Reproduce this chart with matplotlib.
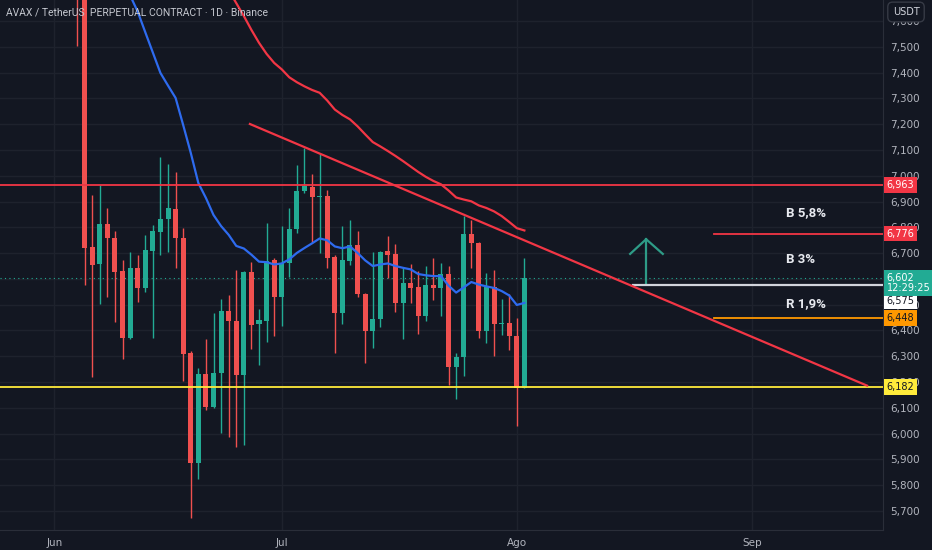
import numpy as np
import matplotlib.pyplot as plt
from matplotlib import transforms

# datos (dias contados desde el 1 de junio)
days = list(range(3, 63))  # 4 jun .. 2 ago
opens = [7950, 7800, 6723, 6657, 6812, 6760, 6632, 6372, 6644, 6564,
         6710, 6781, 6831, 6871, 6760, 6312, 5887, 6231, 6102, 6234,
         6477, 6438, 6227, 6626, 6424, 6438, 6674, 6529, 6661, 6794,
         6941, 6958, 6916, 6923, 6686, 6467, 6671, 6732, 6542, 6399,
         6443, 6708, 6696, 6508, 6583, 6570, 6457, 6577, 6564, 6619,
         6257, 6298, 6773, 6738, 6398, 6570, 6424, 6428, 6380, 6178]
highs = [8050, 7850, 6926, 6965, 6877, 6787, 6674, 6703, 6693, 6771,
         6809, 7074, 7045, 7014, 6797, 6320, 6256, 6367, 6467, 6522,
         6538, 6635, 6630, 6667, 6483, 6816, 6680, 6807, 6874, 7040,
         7107, 7006, 7085, 6945, 6694, 6807, 6829, 6786, 6545, 6706,
         6710, 6767, 6734, 6641, 6657, 6631, 6650, 6683, 6661, 6650,
         6313, 6844, 6829, 6742, 6622, 6635, 6522, 6540, 6447, 6683]
lows = [7504, 6576, 6218, 6503, 6529, 6434, 6289, 6365, 6509, 6551,
        6370, 6693, 6706, 6641, 6205, 5671, 5824, 6092, 6098, 6001,
        5988, 5947, 5956, 6328, 6266, 6357, 6380, 6419, 6606, 6780,
        6935, 6745, 6702, 6641, 6312, 6424, 6654, 6531, 6273, 6331,
        6415, 6603, 6473, 6366, 6508, 6386, 6437, 6518, 6456, 6189,
        6133, 6225, 6641, 6370, 6353, 6302, 6383, 6324, 6031, 6178]
closes = [7800, 6719, 6654, 6812, 6758, 6628, 6372, 6644, 6564, 6712,
          6786, 6833, 6875, 6758, 6308, 5887, 6231, 6104, 6234, 6477,
          6437, 6227, 6626, 6421, 6440, 6670, 6529, 6661, 6794, 6941,
          6961, 6919, 6921, 6683, 6467, 6674, 6732, 6542, 6399, 6443,
          6706, 6693, 6508, 6583, 6566, 6457, 6577, 6564, 6619, 6257,
          6298, 6773, 6738, 6398, 6570, 6425, 6430, 6380, 6178, 6602]

ema_fast_days = list(range(9, 63))
ema_fast = [7770, 7700, 7637, 7557, 7478, 7399, 7350, 7302, 7197, 7089,
            6972, 6914, 6848, 6805, 6771, 6728, 6718, 6694, 6667, 6665,
            6656, 6660, 6676, 6701, 6720, 6738, 6757, 6750, 6726, 6719,
            6726, 6701, 6672, 6650, 6656, 6660, 6650, 6643, 6637, 6619,
            6614, 6611, 6611, 6574, 6547, 6567, 6588, 6578, 6571, 6565,
            6553, 6536, 6499, 6507]
ema_slow_days = list(range(23, 63))
ema_slow = [7720, 7670, 7620, 7566, 7516, 7473, 7438, 7413, 7382, 7363,
            7347, 7333, 7322, 7292, 7257, 7236, 7219, 7192, 7161, 7131,
            7114, 7096, 7077, 7057, 7036, 7015, 6996, 6980, 6967, 6943,
            6916, 6908, 6901, 6885, 6875, 6862, 6844, 6821, 6797, 6788]

trend_days = [25.8, 107.2]
trend_prices = [7201, 6186]

month_ticks = [0, 30, 61, 92]
month_labels = ['Jun', 'Jul', 'Ago', 'Sep']
price_ticks = list(range(5700, 7700, 100))

current_price = 6602
timer_text = '12:29:25'
level_top = 6963
level_bottom = 6182
level_b58 = 6776
level_entry = 6575
level_r19 = 6448
zone_texts = ['B 5,8%', 'B 3%', 'R 1,9%']
zone_prices = [6857, 6674, 6503]
arrow_day, arrow_low, arrow_high = 78.06, 6580, 6754
arrow_head_days, arrow_head_price = [75.95, 80.26], 6697

bg = '#131722'
grid_c = '#1e222d'
txt_c = '#b2b5be'
up_c = '#22ab94'
down_c = '#f0504f'

fig = plt.figure(figsize=(9.32, 5.5), dpi=100, facecolor=bg)
ax = fig.add_axes([0, 20 / 550, 883 / 932, 530 / 550])
ax.set_facecolor(bg)
ax.set_xlim(-7.16, 109.3)
ax.set_ylim(5626, 7682)

# velas
d = np.array(days)
o = np.array(opens)
c = np.array(closes)
cols = [up_c if cc >= oo else down_c for oo, cc in zip(o, c)]
ax.vlines(d, lows, highs, colors=cols, linewidth=1, zorder=2)
ax.bar(d, np.maximum(np.abs(c - o), 4), bottom=np.minimum(o, c), width=0.66,
       color=cols, linewidth=0, zorder=3)

# medias
ax.plot(ema_fast_days, ema_fast, color='#2e6bef', linewidth=1.6, zorder=4)
ax.plot(ema_slow_days, ema_slow, color='#f23645', linewidth=1.6, zorder=4)

# niveles y lineas dibujadas
ax.axhline(level_top, color='#f23645', linewidth=1.3, zorder=4)
ax.axhline(level_bottom, color='#ffeb3b', linewidth=1.3, zorder=4)
ax.axhline(current_price, color=up_c, linewidth=0.8, linestyle=(0, (1, 3)), zorder=1)
ax.plot(trend_days, trend_prices, color='#f23645', linewidth=1.6, zorder=5)
ax.plot([87.0, 109.3], [level_b58] * 2, color='#f23645', linewidth=1.3, zorder=4)
ax.plot([87.0, 109.3], [level_r19] * 2, color='#ff9800', linewidth=1.3, zorder=4)
ax.plot([76.3, 109.3], [level_entry] * 2, color='#d1d4dc', linewidth=1.6, zorder=4)

ax.plot([arrow_day, arrow_day], [arrow_low, arrow_high], color='#2e9c87', linewidth=1.6)
ax.plot([arrow_head_days[0], arrow_day, arrow_head_days[1]],
        [arrow_head_price, arrow_high, arrow_head_price], color='#2e9c87', linewidth=1.6)

for t, p in zip(zone_texts, zone_prices):
    ax.text(96.5, p, t, color='#e8eaf0', fontsize=9.5, fontweight='bold', va='center', ha='left',
            family='Roboto')

# ejes
ax.set_xticks(month_ticks)
ax.set_xticklabels(month_labels)
ax.set_yticks(price_ticks)
ax.set_yticklabels([f'{v:,}' for v in price_ticks])
ax.yaxis.tick_right()
ax.tick_params(axis='both', length=0, colors=txt_c, labelsize=7.5)
ax.tick_params(axis='y', pad=5)
ax.tick_params(axis='x', pad=6)
ax.grid(True, color=grid_c, linewidth=1)
ax.set_axisbelow(True)
for s in ['top', 'left']:
    ax.spines[s].set_visible(False)
for s in ['right', 'bottom']:
    ax.spines[s].set_color('#2a2e39')

# etiquetas de precio
tr = transforms.blended_transform_factory(ax.transAxes, ax.transData)


def price_tag(y, label, fc, tc, dy=0):
    ax.annotate(label, xy=(1.0, y), xycoords=tr, xytext=(2.5, dy), textcoords='offset points',
                fontsize=7, color=tc, va='center', ha='left', annotation_clip=False, zorder=10,
                bbox=dict(boxstyle='square,pad=0.3', fc=fc, ec='none'))


price_tag(level_top, f'{level_top:,}', '#f23645', '#ffffff')
price_tag(level_b58, f'{level_b58:,}', '#f23645', '#ffffff')
price_tag(level_entry, f'{level_entry:,}', '#ffffff', '#131722', dy=-11)
price_tag(level_r19, f'{level_r19:,}', '#ff9800', '#131722')
price_tag(level_bottom, f'{level_bottom:,}', '#ffeb3b', '#131722')
ax.annotate(f'{current_price:,}\n{timer_text}', xy=(1.0, current_price), xycoords=tr,
            xytext=(2.5, -3.5), textcoords='offset points', fontsize=7, color='#ffffff',
            va='center', ha='left', annotation_clip=False, zorder=11, linespacing=1.05,
            bbox=dict(boxstyle='square,pad=0.3', fc='#22ab94', ec='none'))

fig.text(906 / 932, 1 - 12 / 550, 'USDT', color='#d1d4dc', fontsize=7, ha='center', va='center',
         bbox=dict(boxstyle='round,pad=0.5', fc=bg, ec='#363a45'))
fig.text(6 / 932, 1 - 12 / 550, 'AVAX / TetherUS  PERPETUAL CONTRACT · 1D · Binance',
         color='#c3c6ce', fontsize=7.5, ha='left', va='center', family='Roboto')

fig.savefig('out.png', dpi=100, facecolor=bg)
